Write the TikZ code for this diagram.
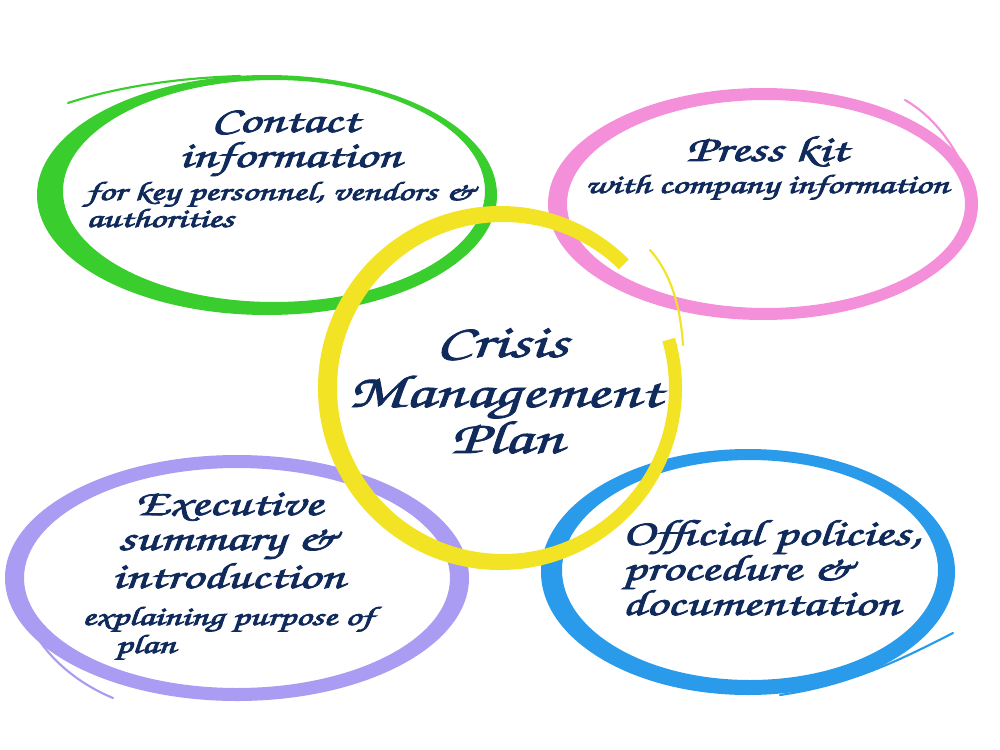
\documentclass[tikz,border=0pt]{standalone}
\usepackage[T1]{fontenc}
\usepackage{graphicx}
\definecolor{cgreen}{HTML}{3ACD2E}
\definecolor{cpink}{HTML}{F48FD9}
\definecolor{cyellow}{HTML}{F2E424}
\definecolor{cpurple}{HTML}{A99CF2}
\definecolor{cblue}{HTML}{2A9BEA}
\definecolor{cnavy}{HTML}{102A5C}
\newcommand\hwbig{\fontencoding{T1}\fontfamily{pzc}\fontsize{27.5}{32}\selectfont}
\newcommand\hwhuge{\fontencoding{T1}\fontfamily{pzc}\fontsize{35}{40}\selectfont}
\newcommand\hwsmall{\fontencoding{T1}\fontfamily{pzc}\fontsize{20}{24}\selectfont}
\newcommand\hs[1]{\special{pdf:literal direct 2 Tr 0.55 w}\scalebox{1.45}[1]{#1}\special{pdf:literal direct 0 Tr}}
\begin{document}
\begin{tikzpicture}[x=0.75pt,y=-0.75pt,
  ring/.style={fill=#1, even odd rule},
  tail/.style={draw=#1, line width=1.6pt, line cap=round},
  big/.style={text=cnavy, font=\hwbig, inner sep=0pt, anchor=base},
  huge/.style={text=cnavy, font=\hwhuge, inner sep=0pt, anchor=base},
  small/.style={text=cnavy, font=\hwsmall, inner sep=0pt, anchor=base west}]
\useasboundingbox (0,0) rectangle (1000,750);
\fill[white] (0,0) rectangle (1000,750);
% rings
\fill[ring=cgreen] (267,195) ellipse [x radius=230, y radius=120] (274,191) ellipse [x radius=211, y radius=111];
\draw[tail=cgreen] (68,103) .. controls (120,86) and (180,78) .. (240,76);
\fill[ring=cpink] (763,204) ellipse [x radius=215, y radius=116] (766,204) ellipse [x radius=199, y radius=104];
\draw[tail=cpink] (905,100) .. controls (940,120) and (965,160) .. (975,200);
\fill[ring=cpurple] (237,578) ellipse [x radius=232, y radius=123] (237,578) ellipse [x radius=213, y radius=110];
\draw[tail=cpurple] (113,698) .. controls (70,680) and (40,650) .. (25,615);
\fill[ring=cblue] (748,572) ellipse [x radius=207, y radius=123] (750,570) ellipse [x radius=188, y radius=110];
\draw[tail=cblue] (953,633) .. controls (900,660) and (850,685) .. (780,695);
\begin{scope}[even odd rule]
\clip (0,0) rectangle (1000,750) (500,388) -- (800,302) -- (712,176) -- cycle;
\fill[ring=cyellow] (500,388) ellipse [x radius=182, y radius=182] (503,388) ellipse [x radius=166, y radius=166];
\end{scope}
\draw[tail=cyellow] (650,250) .. controls (668,270) and (680,300) .. (683,345);
% texts
\node[big] (g1) at (285,132) {\hs{Contact}};
\node[big] (g2) at (290,167) {\hs{information}};
\node[small] (g3) at (86,200) {\hs{for key personnel, vendors \&}};
\node[small] (g4) at (86,227) {\hs{authorities}};
\node[big] (p1) at (767,161) {\hs{Press kit}};
\node[small, anchor=base] (p2) at (767,193) {\hs{with company information}};
\node[huge] (m1) at (502,357) {\hs{Crisis}};
\node[huge] (m2) at (505,407) {\hs{Management}};
\node[huge] (m3) at (507,453) {\hs{Plan}};
\node[big] (e1) at (229,515) {\hs{Executive}};
\node[big] (e2) at (228,550) {\hs{summary \&}};
\node[big] (e3) at (228,588) {\hs{introduction}};
\node[small] (e4) at (82,625) {\hs{explaining purpose of}};
\node[small] (e5) at (115,653) {\hs{plan}};
\node[big, anchor=base west] (o1) at (622,545) {\hs{Official policies,}};
\node[big, anchor=base west] (o2) at (622,580) {\hs{procedure \&}};
\node[big, anchor=base west] (o3) at (622,615) {\hs{documentation}};
\end{tikzpicture}
\end{document}
